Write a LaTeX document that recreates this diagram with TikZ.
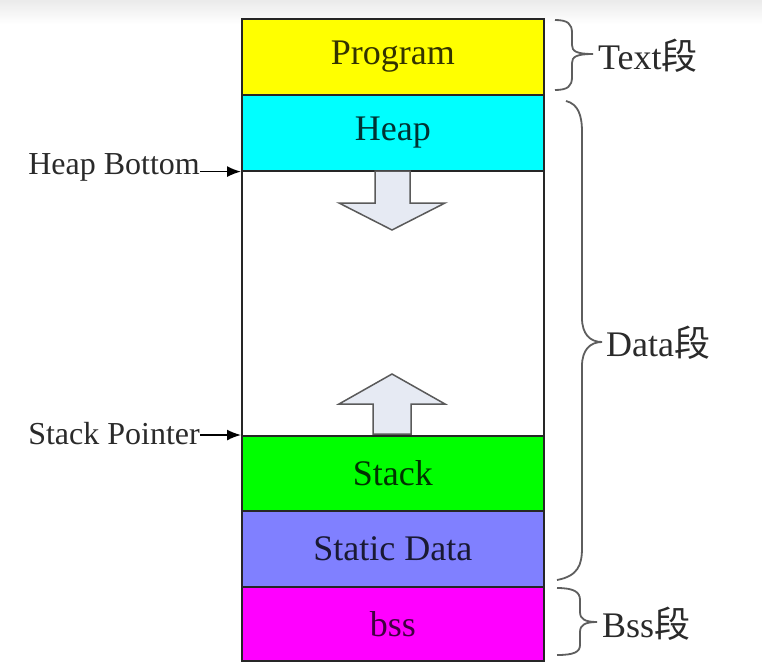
\documentclass[tikz,border=0pt]{standalone}
\usepackage{fontspec}
\usetikzlibrary{arrows.meta}
\setmainfont{Liberation Serif}
\newfontfamily\cjk{Noto Sans CJK SC}
\definecolor{progY}{HTML}{FFFF00}
\definecolor{heapC}{HTML}{00FFFF}
\definecolor{stackG}{HTML}{00FF00}
\definecolor{statB}{HTML}{8080FF}
\definecolor{bssM}{HTML}{FF00FF}
\definecolor{arrowF}{HTML}{E6EAF3}
\definecolor{arrowD}{HTML}{5A5A5A}
\definecolor{braceC}{HTML}{5E5E5E}
\definecolor{labelC}{HTML}{2A2A2A}
\begin{document}
\begin{tikzpicture}[x=1pt,y=-1pt,
  seg/.style={draw=black!85,line width=1.6pt,minimum width=302pt,inner sep=0pt,anchor=north west,
    font=\fontsize{36}{40}\selectfont},
  sidelbl/.style={text=labelC,inner sep=0pt,font=\fontsize{32}{36}\selectfont},
  brlbl/.style={text=labelC,inner sep=0pt,anchor=west,font=\fontsize{36}{40}\selectfont},
  brc/.style={draw=braceC,line width=1.8pt},
  bigarrow/.style={draw=arrowD,fill=arrowF,line width=1.5pt,line join=miter},
  ptr/.style={draw=black,line width=1.6pt,-{Latex[length=14pt,width=11pt]}}]
\useasboundingbox (0,0) rectangle (762,664);
\shade[top color=black!8,bottom color=white] (0,0) rectangle (762,24);
% column
\node[seg,fill=progY,text=progY!20!black,minimum height=76pt] (prog) at (241,18) {Program};
\node[seg,fill=heapC,text=heapC!20!black,minimum height=76pt] (heap) at (241,94) {Heap};
\node[seg,fill=white,minimum height=265pt] (free) at (241,170) {};
\node[seg,fill=stackG,text=stackG!20!black,minimum height=75pt] (stack) at (241,435) {Stack};
\node[seg,fill=statB,text=statB!20!black,minimum height=76pt] (stat) at (241,510) {Static Data};
\node[seg,fill=bssM,text=bssM!25!black,minimum height=74pt] (bss) at (241,586) {bss};
% growth arrows
\draw[bigarrow] (375,171) -- (410,171) -- (410,203) -- (445,203) -- (392,230) -- (339,203) -- (375,203) -- cycle;
\draw[bigarrow] (373,434) -- (411,434) -- (411,404) -- (445,404) -- (392,374) -- (339,404) -- (373,404) -- cycle;
% pointers
\node[sidelbl,anchor=east] (hb) at (200,167) {Heap Bottom};
\node[sidelbl,anchor=east] (sp) at (200,434) {Stack Pointer};
\draw[ptr] (hb.east |- heap.south west) -- (heap.south west);
\draw[ptr] (sp.east |- stack.north west) -- (stack.north west);
% braces
\coordinate (tb) at (593,54);
\draw[brc] (555,20) .. controls (568,20) and (572,24) .. (572,33)
  -- (572,45) .. controls (572,51) and (576,54) .. (tb)
  .. controls (576,54) and (572,57) .. (572,63)
  -- (572,77) .. controls (572,86) and (568,90) .. (555,90);
\node[brlbl] (tl) at (598,56) {Text{\cjk 段}};
\coordinate (db) at (602,342);
\draw[brc] (566,101) .. controls (578,104) and (582,115) .. (582,132)
  -- (582,318) .. controls (582,334) and (590,342) .. (db)
  .. controls (590,342) and (582,350) .. (582,366)
  -- (582,548) .. controls (582,565) and (578,576) .. (557,580);
\node[brlbl] (dl) at (606,343) {Data{\cjk 段}};
\coordinate (bb) at (597,622);
\draw[brc] (557,588) .. controls (574,588) and (580,592) .. (580,600)
  -- (580,612) .. controls (580,619) and (585,622) .. (bb)
  .. controls (585,622) and (580,625) .. (580,632)
  -- (580,645) .. controls (580,652) and (574,655) .. (557,655);
\node[brlbl] (bl) at (602,624) {Bss{\cjk 段}};
\end{tikzpicture}
\end{document}
